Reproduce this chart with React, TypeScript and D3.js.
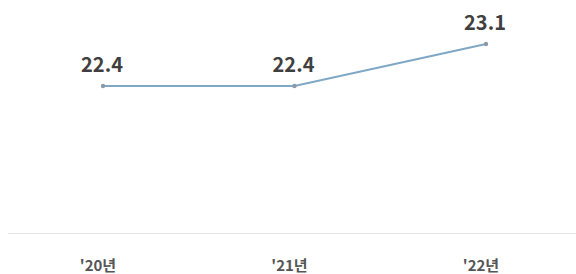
import React from "react";
import * as d3 from "d3";

const categories = ["'20년", "'21년", "'22년"];
const values = [22.4, 22.4, 23.1];
const valueLabels = ["22.4", "22.4", "23.1"];

export default function App() {
  const W = 576, H = 274;
  const x = d3.scalePoint<string>().domain(categories).range([103, 486]);
  const y = d3.scaleLinear().domain([22.4, 23.1]).range([86, 44]);
  const line = d3.line<number>().x((_, i) => x(categories[i])!).y((d) => y(d));
  const font = "'Noto Sans CJK KR', 'Noto Sans', sans-serif";
  return (
    <svg width={W} height={H} style={{ position: "absolute", left: 0, top: 0, background: "#fff" }}>
      <line x1={8} x2={576} y1={233.5} y2={233.5} stroke="#e4e4e4" strokeWidth={1} />
      <path d={line(values)!} fill="none" stroke="#7fa7c6" strokeWidth={1.8} />
      {values.map((v, i) => (
        <circle key={i} cx={x(categories[i])} cy={y(v)} r={2.2} fill="#8a9aa6" />
      ))}
      {values.map((v, i) => (
        <text key={"l" + i} x={x(categories[i])! - 1} y={y(v) - 14} textAnchor="middle"
          fontFamily={font} fontWeight={700} fontSize={20} fill="#3f3f3f">{valueLabels[i]}</text>
      ))}
      {categories.map((c, i) => (
        <text key={"c" + i} x={x(c)! - 5} y={271} textAnchor="middle"
          fontFamily={font} fontWeight={700} fontSize={15} fill="#555">{c}</text>
      ))}
    </svg>
  );
}
